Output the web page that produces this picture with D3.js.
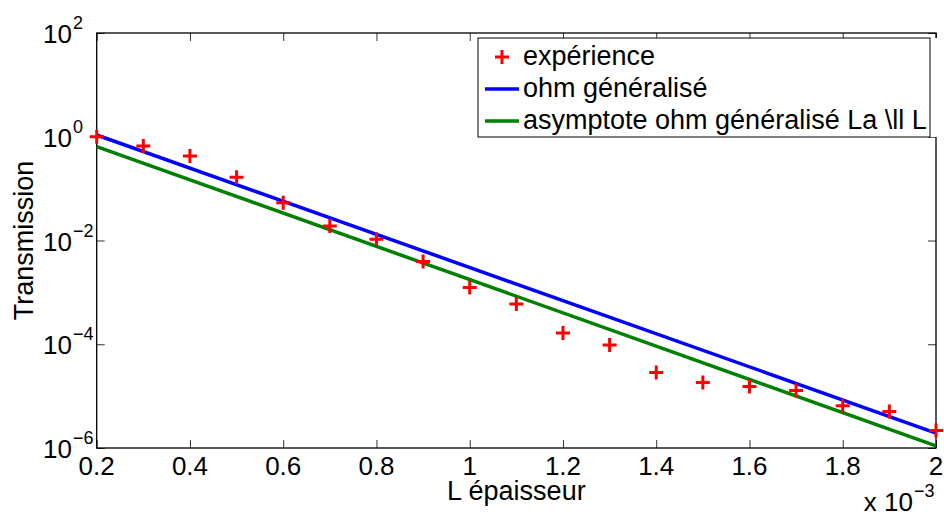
<!DOCTYPE html>
<html>
<head>
<meta charset="utf-8">
<script src="https://cdn.jsdelivr.net/npm/d3@7"></script>
<style>
  body { margin: 0; background: #fff; }
  text { font-family: "Liberation Sans", Arial, Helvetica, sans-serif; fill: #000; }
</style>
</head>
<body>
<script>
// thickness L (units of 1e-3) and measured transmission
var thickness = [0.2,0.3,0.4,0.5,0.6,0.7,0.8,0.9,1.0,1.1,1.2,1.3,1.4,1.5,1.6,1.7,1.8,1.9,2.0];
var experience = [1.0,0.665,0.427,0.166,0.0537,0.0191,0.0106,0.00392,0.00124,6.0e-4,1.64e-4,9.7e-5,2.85e-5,1.83e-5,1.53e-5,1.28e-5,6.5e-6,5.05e-6,2.17e-6];

// model curves (straight on log axis), end points
var modelL = [0.2, 2.0];
var ohmGeneralise = [1.08, 1.94e-6];
var asymptote = [0.645, 1.1e-6];

var xTicks = [0.2,0.4,0.6,0.8,1,1.2,1.4,1.6,1.8,2];
var yTicks = [1e-6,1e-4,1e-2,1e0,1e2];
var yExp = ["\u22126","\u22124","\u22122","0","2"];

var legendLabels = ["expérience","ohm généralisé","asymptote ohm généralisé La \\ll L"];

var width = 944, height = 515;
var margin = {top: 33, right: 8, bottom: 67, left: 96.7};

var svg = d3.select("body").append("svg")
    .attr("width", width)
    .attr("height", height);

var x = d3.scaleLinear()
    .domain([0.2, 2])
    .range([margin.left, width - margin.right]);

var y = d3.scaleLog()
    .domain([1e-6, 1e2])
    .range([height - margin.bottom, margin.top]);

var plotW = x.range()[1] - x.range()[0];
var plotH = y.range()[0] - y.range()[1];

//Ticks (inside, all four sides)
var tickStyle = function(g){
    g.select(".domain").remove();
    g.selectAll(".tick line").attr("stroke","#333").attr("stroke-width",1);
};

svg.append("g")
    .attr("transform","translate(0,"+y.range()[0]+")")
    .call(d3.axisBottom(x).tickValues(xTicks).tickSize(-8).tickFormat(""))
    .call(tickStyle);
svg.append("g")
    .attr("transform","translate(0,"+y.range()[1]+")")
    .call(d3.axisTop(x).tickValues(xTicks).tickSize(-8).tickFormat(""))
    .call(tickStyle);
svg.append("g")
    .attr("transform","translate("+x.range()[0]+",0)")
    .call(d3.axisLeft(y).tickValues(yTicks).tickSize(-8).tickFormat(""))
    .call(tickStyle);
svg.append("g")
    .attr("transform","translate("+x.range()[1]+",0)")
    .call(d3.axisRight(y).tickValues(yTicks).tickSize(-8).tickFormat(""))
    .call(tickStyle);

//Box
svg.append("rect")
    .attr("x", x.range()[0])
    .attr("y", y.range()[1])
    .attr("width", plotW)
    .attr("height", plotH)
    .attr("fill","none")
    .attr("stroke","#000")
    .attr("stroke-width",1.3);

//Tick labels
svg.selectAll(".xlab")
    .data(xTicks)
    .enter().append("text")
    .attr("x", function(d){return x(d);})
    .attr("y", y.range()[0] + 27)
    .attr("text-anchor","middle")
    .attr("font-size",26)
    .text(function(d){return d3.format("")(d);});

var ylab = svg.selectAll(".ylab")
    .data(yTicks)
    .enter().append("g");
ylab.append("text")
    .attr("x", 72)
    .attr("y", function(d){return y(d) + 10;})
    .attr("text-anchor","end")
    .attr("font-size",26)
    .text("10");
ylab.append("text")
    .attr("x", 73)
    .attr("y", function(d){return y(d) - 4;})
    .attr("font-size",18)
    .text(function(d,i){return yExp[i];});

//Axis titles
svg.append("text")
    .attr("x", (x.range()[0] + x.range()[1]) / 2)
    .attr("y", 500)
    .attr("text-anchor","middle")
    .attr("font-size",27)
    .text("L épaisseur");

svg.append("text")
    .attr("transform","translate(33,"+((y.range()[0] + y.range()[1]) / 2)+") rotate(-90)")
    .attr("text-anchor","middle")
    .attr("font-size",27)
    .text("Transmission");

svg.append("text")
    .attr("x", 913)
    .attr("y", 511)
    .attr("text-anchor","end")
    .attr("font-size",26)
    .text("x 10");
svg.append("text")
    .attr("x", 914)
    .attr("y", 497)
    .attr("font-size",18)
    .text("\u22123");

//Model lines
var line = d3.line()
    .x(function(d){return x(d[0]);})
    .y(function(d){return y(d[1]);});

svg.append("path")
    .datum(d3.zip(modelL, ohmGeneralise))
    .attr("d", line)
    .attr("fill","none")
    .attr("stroke","#0000ff")
    .attr("stroke-width",3.5);

svg.append("path")
    .datum(d3.zip(modelL, asymptote))
    .attr("d", line)
    .attr("fill","none")
    .attr("stroke","#008000")
    .attr("stroke-width",3.5);

//Experimental points
svg.selectAll(".pt")
    .data(d3.zip(thickness, experience))
    .enter().append("path")
    .attr("transform", function(d){return "translate("+x(d[0])+","+y(d[1])+")";})
    .attr("d", "M-7,0H7M0,-7V7")
    .attr("stroke","#ff0000")
    .attr("stroke-width",3)
    .attr("fill","none");

//Legend
var legend = svg.append("g");
legend.append("rect")
    .attr("x",478).attr("y",38)
    .attr("width",460).attr("height",99)
    .attr("fill","#fff");
legend.append("rect")
    .attr("x",478).attr("y",38)
    .attr("width",452).attr("height",99)
    .attr("fill","#fff")
    .attr("stroke","#000")
    .attr("stroke-width",1);

var rows = legend.selectAll(".row")
    .data(legendLabels)
    .enter().append("g")
    .attr("transform", function(d,i){return "translate(0,"+(65 + i*32)+")";});
rows.append("text")
    .attr("x",523)
    .attr("y",0)
    .attr("font-size",27)
    .text(function(d){return d;});

rows.filter(function(d,i){return i == 0;})
    .append("path")
    .attr("d","M495,-8H509M502,-15V-1")
    .attr("stroke","#ff0000")
    .attr("stroke-width",3);
rows.filter(function(d,i){return i > 0;})
    .append("line")
    .attr("x1",485).attr("x2",519)
    .attr("y1",-8).attr("y2",-8)
    .attr("stroke", function(d,i){return i == 0 ? "#0000ff" : "#008000";})
    .attr("stroke-width",3.5);
</script>
</body>
</html>
